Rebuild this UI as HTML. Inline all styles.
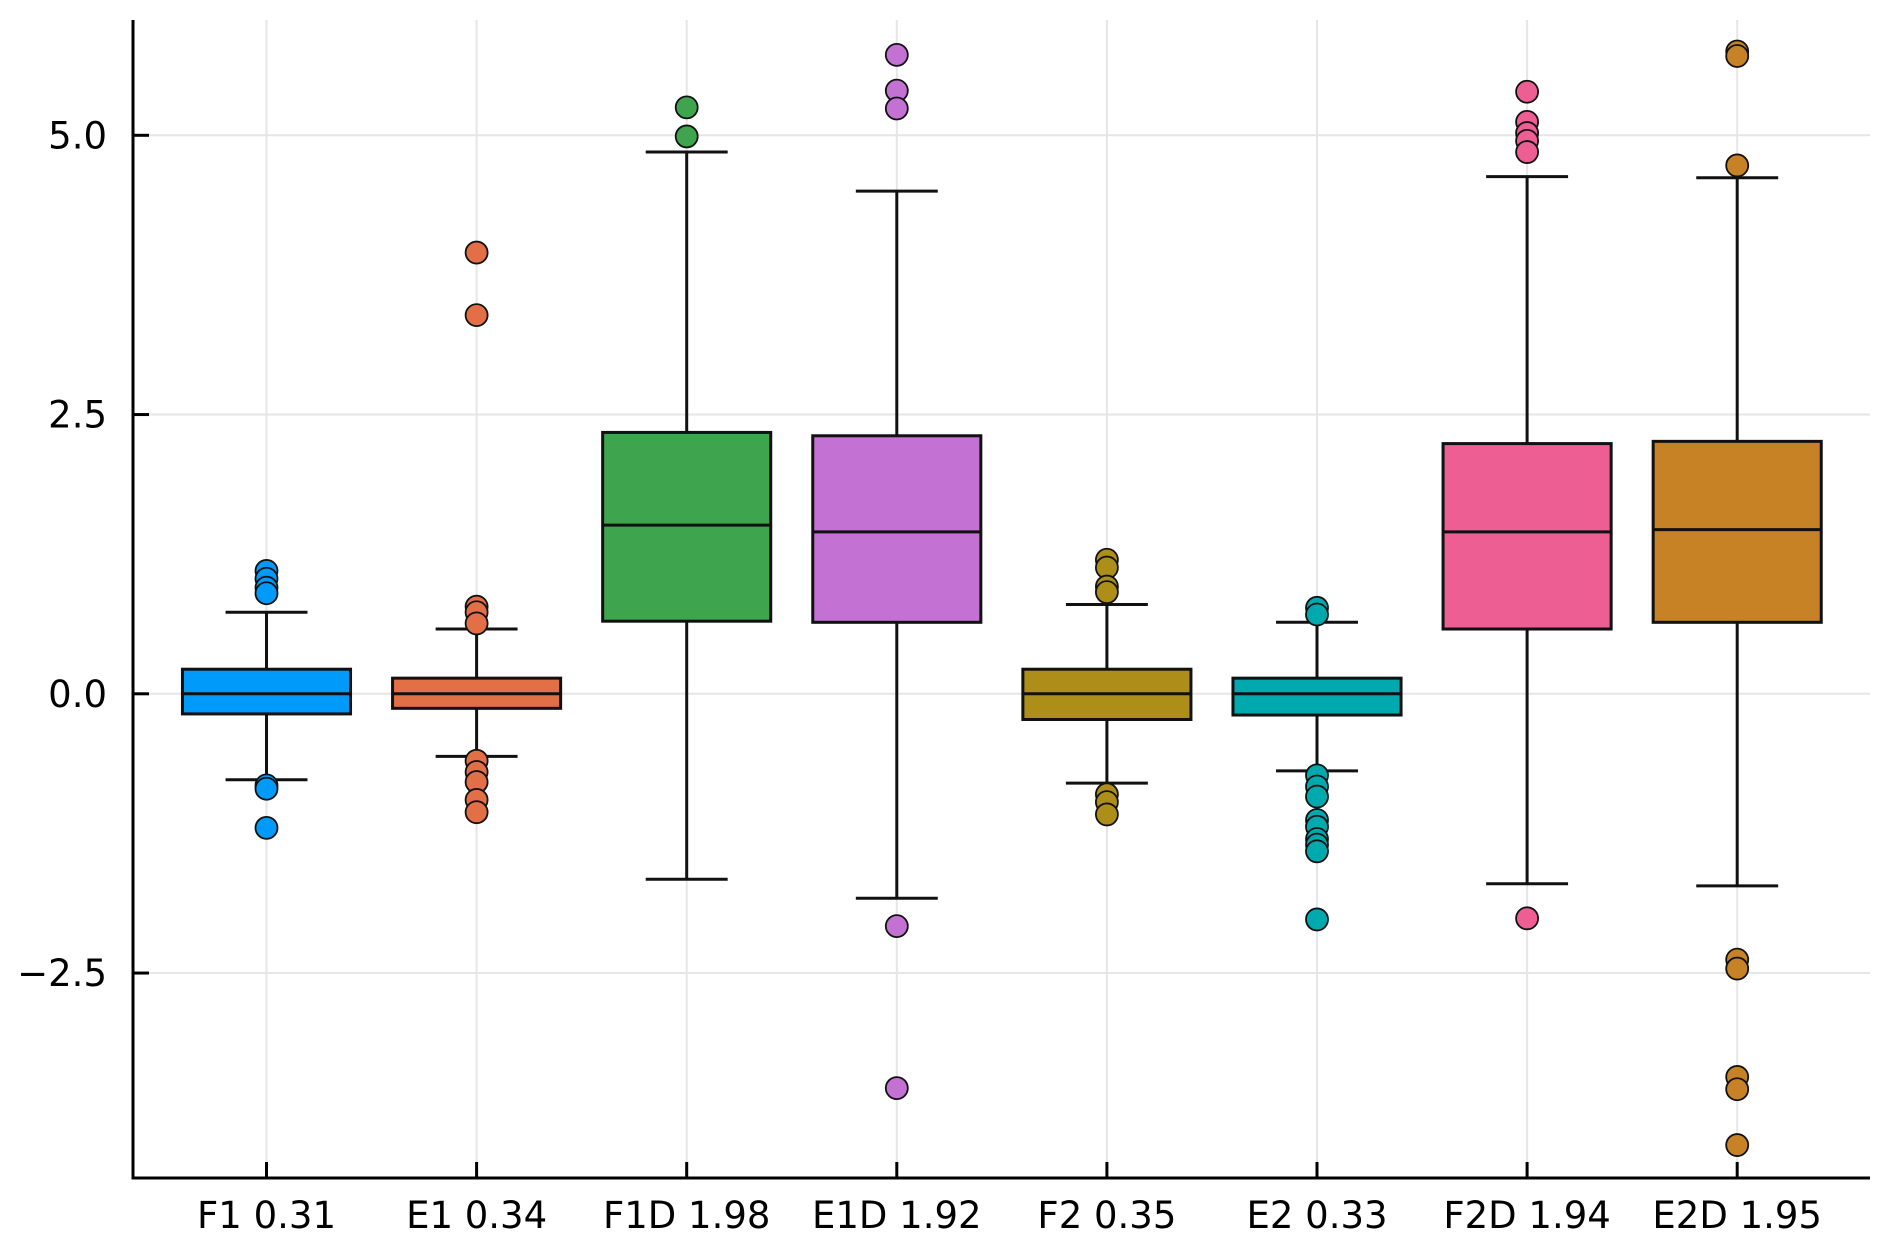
<!DOCTYPE html>
<html><head><meta charset="utf-8"><style>
html,body{margin:0;padding:0;background:#fff;}
svg{display:block;font-family:"DejaVu Sans","Liberation Sans",sans-serif;}
</style></head><body>
<svg id="chart" width="1892" height="1249" viewBox="0 0 1892 1249" xmlns="http://www.w3.org/2000/svg">
<rect width="1892" height="1249" fill="#fff"/>
<g id="grid"></g>
<g id="boxes"></g>
<g id="axes"></g>
</svg>
<script>
const categories = ["F1 0.31","E1 0.34","F1D 1.98","E1D 1.92","F2 0.35","E2 0.33","F2D 1.94","E2D 1.95"];
const colors = ["#009AFA","#E36F47","#3EA44E","#C371D2","#AC8E18","#00A9AD","#ED5E93","#C68225"];
const q1Values = [-0.18,-0.13,0.65,0.64,-0.23,-0.19,0.58,0.64];
const medianValues = [0,0,1.51,1.45,0,0,1.45,1.47];
const q3Values = [0.22,0.14,2.34,2.31,0.22,0.14,2.24,2.26];
const lowerWhiskers = [-0.77,-0.56,-1.66,-1.83,-0.80,-0.69,-1.70,-1.72];
const upperWhiskers = [0.73,0.58,4.85,4.50,0.80,0.64,4.63,4.62];
const outliers = [
  [1.10,1.03,0.95,0.90,-0.82,-0.85,-1.20],
  [3.95,3.39,0.78,0.73,0.63,-0.60,-0.70,-0.79,-0.95,-1.06],
  [5.25,4.99],
  [5.72,5.40,5.24,-2.08,-3.53],
  [1.20,1.13,0.96,0.91,-0.90,-0.97,-1.08],
  [0.77,0.71,-0.73,-0.83,-0.92,-1.13,-1.19,-1.30,-1.35,-1.41,-2.02],
  [5.39,5.12,5.02,4.95,4.85,-2.01],
  [5.75,5.71,4.73,-2.38,-2.46,-3.43,-3.54,-4.04]
];
const yTicks = [-2.5,0,2.5,5.0];
const yTickLabels = ["\u22122.5","0.0","2.5","5.0"];

const NS = "http://www.w3.org/2000/svg";
const plotLeft=133, plotRight=1870, plotTop=20, plotBottom=1178;
const x0=266.5, step=210.1;
function xPos(i){return x0+i*step;}
function yPos(v){return 693.8 - v*111.7;}
function mk(parent, tag, attrs){const e=document.createElementNS(NS,tag);for(const k in attrs)e.setAttribute(k,attrs[k]);parent.appendChild(e);return e;}
const gridG=document.getElementById('grid'), boxesG=document.getElementById('boxes'), axesG=document.getElementById('axes');

categories.forEach((c,i)=>{
  const g=mk(gridG,'line',{x1:xPos(i),x2:xPos(i),y1:plotTop,y2:plotBottom,stroke:'#e6e6e6','stroke-width':2});
  
  
});
yTicks.forEach(v=>{
  const g=mk(gridG,'line',{x1:plotLeft,x2:plotRight,y1:yPos(v),y2:yPos(v),stroke:'#e6e6e6','stroke-width':2});
  
  
});

const bw=step*0.8, cw=step*0.39;
categories.forEach((c,i)=>{
  const x=xPos(i);
  const grp=mk(boxesG,'g',{});
  
  
  const st={stroke:'#111','stroke-width':3};
  mk(grp,'line',Object.assign({x1:x,x2:x,y1:yPos(upperWhiskers[i]),y2:yPos(q3Values[i])},st));
  mk(grp,'line',Object.assign({x1:x,x2:x,y1:yPos(q1Values[i]),y2:yPos(lowerWhiskers[i])},st));
  mk(grp,'line',Object.assign({x1:x-cw/2,x2:x+cw/2,y1:yPos(upperWhiskers[i]),y2:yPos(upperWhiskers[i])},st));
  mk(grp,'line',Object.assign({x1:x-cw/2,x2:x+cw/2,y1:yPos(lowerWhiskers[i]),y2:yPos(lowerWhiskers[i])},st));
  const r=mk(grp,'rect',{x:x-bw/2,y:yPos(q3Values[i]),width:bw,height:yPos(q1Values[i])-yPos(q3Values[i]),fill:colors[i],stroke:'#111','stroke-width':3});
  
  
  const m=mk(grp,'line',Object.assign({x1:x-bw/2,x2:x+bw/2,y1:yPos(medianValues[i]),y2:yPos(medianValues[i])},st));
  
  
  outliers[i].forEach(v=>{
    const p=mk(grp,'circle',{cx:x,cy:yPos(v),r:11,fill:colors[i],stroke:'#111','stroke-width':1.8});
    
    
  });
});

const ax=mk(axesG,'path',{d:`M${plotLeft} ${plotTop}V${plotBottom}H${plotRight}`,fill:'none',stroke:'#000','stroke-width':3});


categories.forEach((c,i)=>{
  mk(axesG,'line',{x1:xPos(i),x2:xPos(i),y1:plotBottom,y2:plotBottom-16,stroke:'#000','stroke-width':3});
  const t=mk(axesG,'text',{x:xPos(i),y:1228,'text-anchor':'middle','font-size':37,fill:'#000'});
  t.textContent=c;
  
  
});
yTicks.forEach((v,i)=>{
  mk(axesG,'line',{x1:plotLeft,x2:plotLeft+16,y1:yPos(v),y2:yPos(v),stroke:'#000','stroke-width':3});
  const t=mk(axesG,'text',{x:107,y:yPos(v)+13,'text-anchor':'end','font-size':37,fill:'#000'});
  t.textContent=yTickLabels[i];
  
  
});
</script>
</body></html>
